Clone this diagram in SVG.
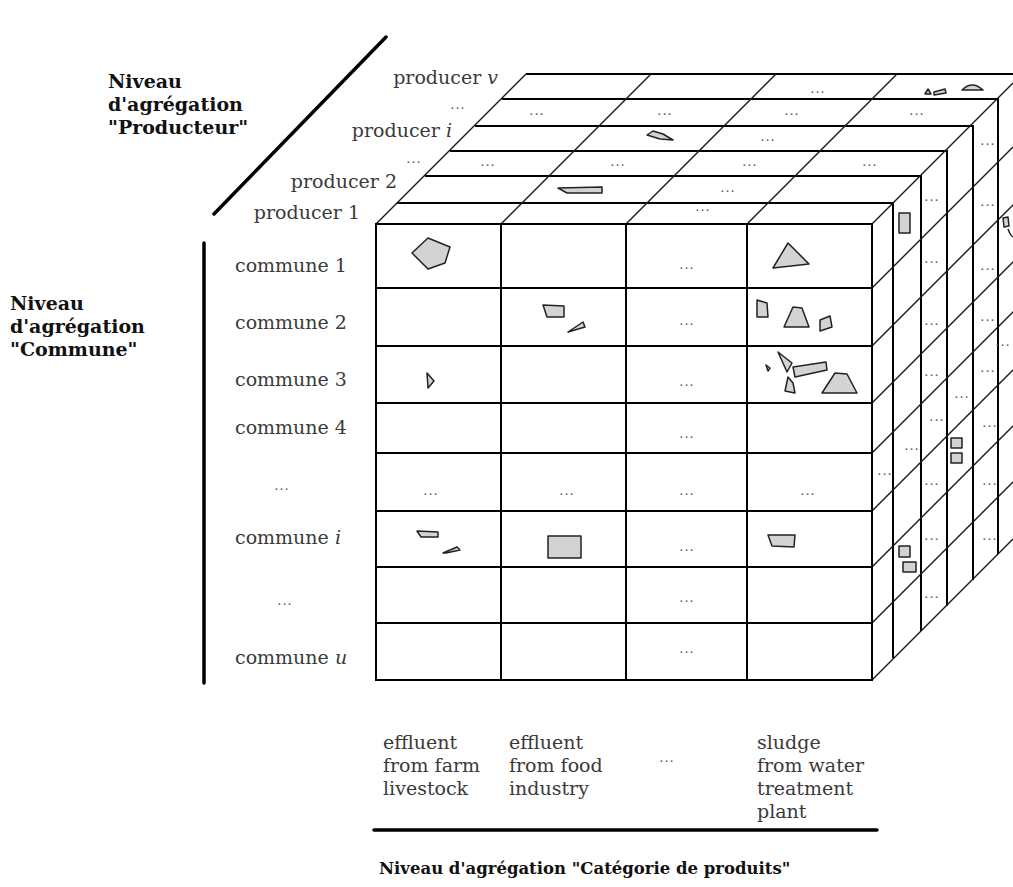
<svg xmlns="http://www.w3.org/2000/svg" width="1013" height="887" viewBox="0 0 1013 887">
<style>
.bg{fill:#fff}
.g{stroke:#000;stroke-width:2;fill:none}
.d{stroke:#1a1a1a;stroke-width:1.4;fill:none}
.ax{stroke:#000;stroke-width:3.5;fill:none;stroke-linecap:round}
.lb{font-family:"DejaVu Serif","Liberation Serif",serif;font-size:19px;fill:#3a3a3a}
.tt{font-family:"DejaVu Serif","Liberation Serif",serif;font-size:19px;font-weight:bold;fill:#111}
.dt{font-family:"DejaVu Serif","Liberation Serif",serif;font-size:13px;fill:#555;text-anchor:middle;letter-spacing:1px}
.bl{fill:#d3d3d3;stroke:#222;stroke-width:1.5;stroke-linejoin:round}
.it{font-style:italic}
</style>
<rect class="bg" x="0" y="0" width="1013" height="887"/>

<g id="axes">
  <line class="ax" x1="214" y1="214" x2="386" y2="37"/>
  <line class="ax" x1="204" y1="243" x2="204" y2="683"/>
  <line class="ax" x1="374" y1="830" x2="877" y2="830"/>
</g>

<g id="titles">
  <text class="tt" x="108" y="88">Niveau</text>
  <text class="tt" x="108" y="111">d'agrégation</text>
  <text class="tt" x="108" y="134">"Producteur"</text>
  <text class="tt" x="10" y="310">Niveau</text>
  <text class="tt" x="10" y="333">d'agrégation</text>
  <text class="tt" x="10" y="356">"Commune"</text>
  <text class="tt" x="379" y="874" style="font-size:16.5px">Niveau d'agrégation "Catégorie de produits"</text>
</g>

<g id="cube-slices">
  <path class="g" d="M397,203 H893 V658"/>
  <path class="g" d="M425,176 H921 V631"/>
  <path class="g" d="M450,151 H947 V606"/>
  <path class="g" d="M475,126 H973 V580"/>
  <path class="g" d="M502,99 H998 V554"/>
  <path class="g" d="M526,74 H1023 V530"/>
</g>

<g id="connectors">
  <line class="d" x1="376" y1="224" x2="526" y2="74"/>
  <line class="d" x1="501" y1="224" x2="651" y2="74"/>
  <line class="d" x1="626" y1="224" x2="776" y2="74"/>
  <line class="d" x1="747" y1="224" x2="897" y2="74"/>
  <line class="d" x1="872" y1="224" x2="1022" y2="74"/>
  <line class="d" x1="872" y1="288" x2="1022" y2="138"/>
  <line class="d" x1="872" y1="346" x2="1022" y2="196"/>
  <line class="d" x1="872" y1="403" x2="1022" y2="253"/>
  <line class="d" x1="872" y1="453" x2="1022" y2="303"/>
  <line class="d" x1="872" y1="511" x2="1022" y2="361"/>
  <line class="d" x1="872" y1="567" x2="1022" y2="417"/>
  <line class="d" x1="872" y1="623" x2="1022" y2="473"/>
  <line class="d" x1="872" y1="680" x2="1022" y2="530"/>
</g>

<g id="front-face">
  <rect class="g" x="376" y="224" width="496" height="456"/>
  <path class="g" d="M501,224 V680 M626,224 V680 M747,224 V680"/>
  <path class="g" d="M376,288 H872 M376,346 H872 M376,403 H872 M376,453 H872 M376,511 H872 M376,567 H872 M376,623 H872"/>
</g>

<g id="producer-labels">
  <text class="lb" x="498" y="84" text-anchor="end">producer <tspan class="it">v</tspan></text>
  <text class="dt" x="458" y="109">...</text>
  <text class="lb" x="452" y="137" text-anchor="end">producer <tspan class="it">i</tspan></text>
  <text class="dt" x="414" y="163">...</text>
  <text class="lb" x="397" y="188" text-anchor="end">producer 2</text>
  <text class="lb" x="360" y="219" text-anchor="end">producer 1</text>
</g>

<g id="commune-labels">
  <text class="lb" x="235" y="272">commune 1</text>
  <text class="lb" x="235" y="329">commune 2</text>
  <text class="lb" x="235" y="386">commune 3</text>
  <text class="lb" x="235" y="434">commune 4</text>
  <text class="dt" x="282" y="490">...</text>
  <text class="lb" x="235" y="544">commune <tspan class="it">i</tspan></text>
  <text class="dt" x="285" y="605">...</text>
  <text class="lb" x="235" y="664">commune <tspan class="it">u</tspan></text>
</g>

<g id="category-labels">
  <text class="lb" x="383" y="749">effluent</text>
  <text class="lb" x="383" y="772">from farm</text>
  <text class="lb" x="383" y="795">livestock</text>
  <text class="lb" x="509" y="749">effluent</text>
  <text class="lb" x="509" y="772">from food</text>
  <text class="lb" x="509" y="795">industry</text>
  <text class="dt" x="667" y="762">...</text>
  <text class="lb" x="757" y="749">sludge</text>
  <text class="lb" x="757" y="772">from water</text>
  <text class="lb" x="757" y="795">treatment</text>
  <text class="lb" x="757" y="818">plant</text>
</g>

<g id="cell-dots">
  <text class="dt" x="687" y="269">...</text>
  <text class="dt" x="687" y="325">...</text>
  <text class="dt" x="687" y="386">...</text>
  <text class="dt" x="687" y="438">...</text>
  <text class="dt" x="431" y="495">...</text>
  <text class="dt" x="567" y="495">...</text>
  <text class="dt" x="687" y="495">...</text>
  <text class="dt" x="808" y="495">...</text>
  <text class="dt" x="687" y="551">...</text>
  <text class="dt" x="687" y="602">...</text>
  <text class="dt" x="687" y="653">...</text>
  <text class="dt" x="818" y="93">...</text>
  <text class="dt" x="537" y="115">...</text>
  <text class="dt" x="665" y="115">...</text>
  <text class="dt" x="792" y="115">...</text>
  <text class="dt" x="917" y="115">...</text>
  <text class="dt" x="768" y="141">...</text>
  <text class="dt" x="488" y="166">...</text>
  <text class="dt" x="618" y="166">...</text>
  <text class="dt" x="750" y="166">...</text>
  <text class="dt" x="870" y="166">...</text>
  <text class="dt" x="728" y="192">...</text>
  <text class="dt" x="703" y="211">...</text>
  <text class="dt" x="988" y="145">...</text>
  <text class="dt" x="932" y="201">...</text>
  <text class="dt" x="988" y="206">...</text>
  <text class="dt" x="932" y="263">...</text>
  <text class="dt" x="988" y="270">...</text>
  <text class="dt" x="932" y="325">...</text>
  <text class="dt" x="988" y="321">...</text>
  <text class="dt" x="1003" y="346">...</text>
  <text class="dt" x="932" y="376">...</text>
  <text class="dt" x="988" y="372">...</text>
  <text class="dt" x="962" y="398">...</text>
  <text class="dt" x="937" y="421">...</text>
  <text class="dt" x="990" y="427">...</text>
  <text class="dt" x="912" y="450">...</text>
  <text class="dt" x="885" y="475">...</text>
  <text class="dt" x="932" y="485">...</text>
  <text class="dt" x="990" y="485">...</text>
  <text class="dt" x="932" y="540">...</text>
  <text class="dt" x="990" y="540">...</text>
  <text class="dt" x="932" y="598">...</text>
</g>

<g id="blobs">
  <polygon class="bl" points="412,253 428,238 450,247 445,263 428,269"/>
  <polygon class="bl" points="773,268 788,243 809,264"/>
  <polygon class="bl" points="543,305 564,306 564,317 547,317"/>
  <polygon class="bl" points="568,332 583,322 585,327"/>
  <polygon class="bl" points="757,300 767,303 768,317 757,317"/>
  <polygon class="bl" points="784,327 793,307 802,308 809,327"/>
  <polygon class="bl" points="820,320 830,316 832,327 820,331"/>
  <polygon class="bl" points="427,373 434,381 428,388"/>
  <polygon class="bl" points="766,365 770,368 768,371"/>
  <polygon class="bl" points="778,352 792,363 787,372"/>
  <polygon class="bl" points="793,367 826,362 827,370 795,377"/>
  <polygon class="bl" points="785,391 788,377 793,383 795,393"/>
  <polygon class="bl" points="822,393 835,373 847,374 857,393"/>
  <polygon class="bl" points="417,531 438,532 438,537 421,537"/>
  <polygon class="bl" points="443,553 457,547 460,550 446,553"/>
  <rect class="bl" x="548" y="536" width="33" height="22" stroke-width="2"/>
  <polygon class="bl" points="768,535 795,535 794,547 772,546"/>
  <polygon class="bl" points="558,188 602,187 602,193 567,193"/>
  <polygon class="bl" points="647,135 653,131 663,134 673,140 660,139"/>
  <polygon class="bl" points="925,94 928,89 931,94"/>
  <polygon class="bl" points="934,92 945,89 946,93 934,95"/>
  <path class="bl" d="M962,90 Q972,80 983,90 Z"/>
  <rect class="bl" x="899" y="213" width="11" height="20"/>
  <rect class="bl" x="951" y="438" width="11" height="10"/>
  <rect class="bl" x="951" y="453" width="11" height="10"/>
  <rect class="bl" x="899" y="546" width="11" height="11"/>
  <rect class="bl" x="903" y="562" width="13" height="10"/>
  <polygon class="bl" points="1003,218 1008,217 1009,226 1004,227"/>
  <path class="d" d="M1008,229 Q1010,235 1013,237"/>
</g>
</svg>
